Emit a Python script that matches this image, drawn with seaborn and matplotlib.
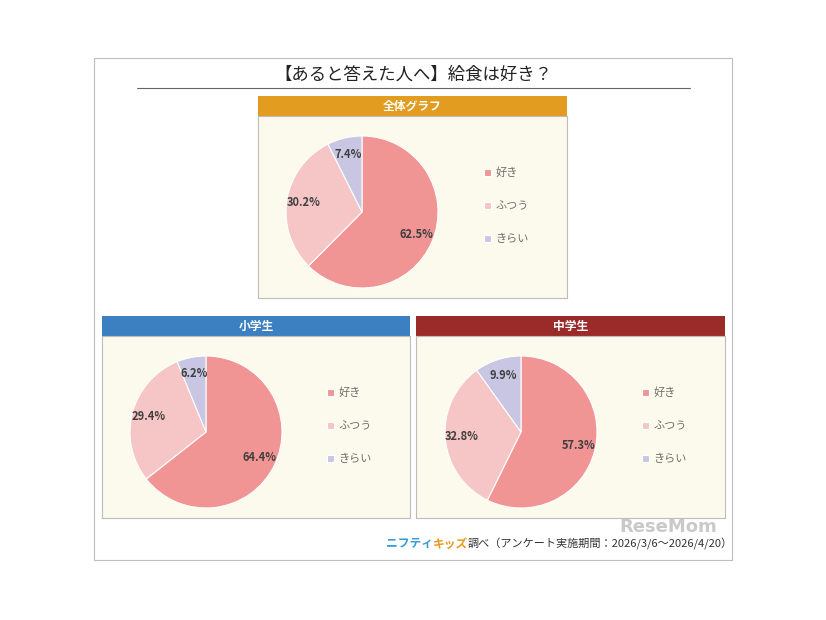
"""Recreate the school-lunch survey pie chart panel."""

import matplotlib.pyplot as plt
import seaborn as sns
from matplotlib.patches import Rectangle

W, H = 826, 620

TITLE = "【あると答えた人へ】給食は好き？"
CATEGORIES = ["好き", "ふつう", "きらい"]
PANEL_TITLES = ["全体グラフ", "小学生", "中学生"]
ALL_VALUES = [62.5, 30.2, 7.4]
ELEMENTARY_VALUES = [64.4, 29.4, 6.2]
JUNIOR_HIGH_VALUES = [57.3, 32.8, 9.9]
HEADER_COLORS = ["#E29C1F", "#3C80C2", "#9B2B29"]
SLICE_COLORS = ["#F09494", "#F6C5C5", "#C8C6E3"]

sns.set_theme(style="white")
plt.rcParams["font.family"] = ["Noto Sans CJK JP", "DejaVu Sans"]


def px_axes(fig, x, y, w, h, **kw):
    """Add axes from pixel box (top-left origin)."""
    return fig.add_axes([x / W, 1 - (y + h) / H, w / W, h / H], **kw)


def draw_panel(fig, x, y, w, title, header_color, values, cx, cy, r, legend_x):
    header_h, body_h = 20, 182
    hdr = px_axes(fig, x, y, w, header_h)
    hdr.set_facecolor(header_color)
    hdr.set_xticks([])
    hdr.set_yticks([])
    for s in hdr.spines.values():
        s.set_visible(False)
    hdr.text(0.5, 0.5, title, color="white", fontsize=8.5, fontweight="bold",
             ha="center", va="center", transform=hdr.transAxes)

    body = px_axes(fig, x, y + header_h, w, body_h)
    body.set_facecolor("#FCFAEC")
    body.set_xticks([])
    body.set_yticks([])
    for s in body.spines.values():
        s.set_color("#BDBDBD")
        s.set_linewidth(0.8)

    ax = px_axes(fig, cx - r, cy - r, 2 * r, 2 * r)
    ax.set_facecolor("none")
    wedges, _, autotexts = ax.pie(
        values, colors=SLICE_COLORS, startangle=90, counterclock=False,
        autopct=lambda p: f"{p:.1f}%", pctdistance=0.78,
        wedgeprops=dict(edgecolor="white", linewidth=0.8),
    )
    # show the surveyed numbers exactly as printed
    for t, v in zip(autotexts, values):
        t.set_text(f"{v:.1f}%")
        t.set_fontsize(8)
        t.set_fontweight("bold")
        t.set_color("#3F3F3F")
    ax.set_xlim(-1, 1)
    ax.set_ylim(-1, 1)
    ax.set_aspect("equal")

    leg = ax.legend(
        wedges, CATEGORIES, loc="center left",
        bbox_to_anchor=((legend_x - (cx - r)) / (2 * r), 0.54),
        frameon=False, fontsize=8, labelspacing=2.05,
        handlelength=0.6, handleheight=0.6, handletextpad=0.4,
        borderpad=0, borderaxespad=0,
    )
    for t in leg.get_texts():
        t.set_color("#6E6E6E")


fig = plt.figure(figsize=(W / 100, H / 100), dpi=100)
fig.patch.set_facecolor("white")

fig.patches.append(Rectangle((94 / W, 1 - 560 / H), 638 / W, 502 / H,
                             transform=fig.transFigure, fill=False,
                             edgecolor="#BDBDBD", linewidth=0.8))

fig.text(413 / W, 1 - 75 / H, TITLE, ha="center", va="center",
         fontsize=12.5, color="#222222")
fig.add_artist(plt.Line2D([137 / W, 690 / W], [1 - 88 / H, 1 - 88 / H],
                          transform=fig.transFigure, color="#666666",
                          linewidth=0.8))

draw_panel(fig, 258, 96, 309, PANEL_TITLES[0], HEADER_COLORS[0],
           ALL_VALUES, 362, 212, 76, 484)
draw_panel(fig, 102, 316, 308, PANEL_TITLES[1], HEADER_COLORS[1],
           ELEMENTARY_VALUES, 206, 432, 76, 327)
draw_panel(fig, 416, 316, 309, PANEL_TITLES[2], HEADER_COLORS[2],
           JUNIOR_HIGH_VALUES, 521, 432, 76, 642)

# footer credit
fy = 1 - 544 / H
fig.text(386 / W, fy, "ニフティ", fontsize=8.5, fontweight="bold",
         color="#3A9AD8", va="center")
fig.text(433 / W, fy, "キッズ", fontsize=8.5, fontweight="bold",
         color="#E89A1C", va="center")
fig.text(468 / W, fy, "調べ（アンケート実施期間：2026/3/6～2026/4/20）",
         fontsize=8, color="#333333", va="center")
fig.text(668 / W, 1 - 527 / H, "ReseMom", fontsize=13, fontweight="bold",
         color="#888888", alpha=0.45, ha="center", va="center",
         family=["DejaVu Sans"])

fig.savefig("out.png", dpi=100, facecolor="white")
